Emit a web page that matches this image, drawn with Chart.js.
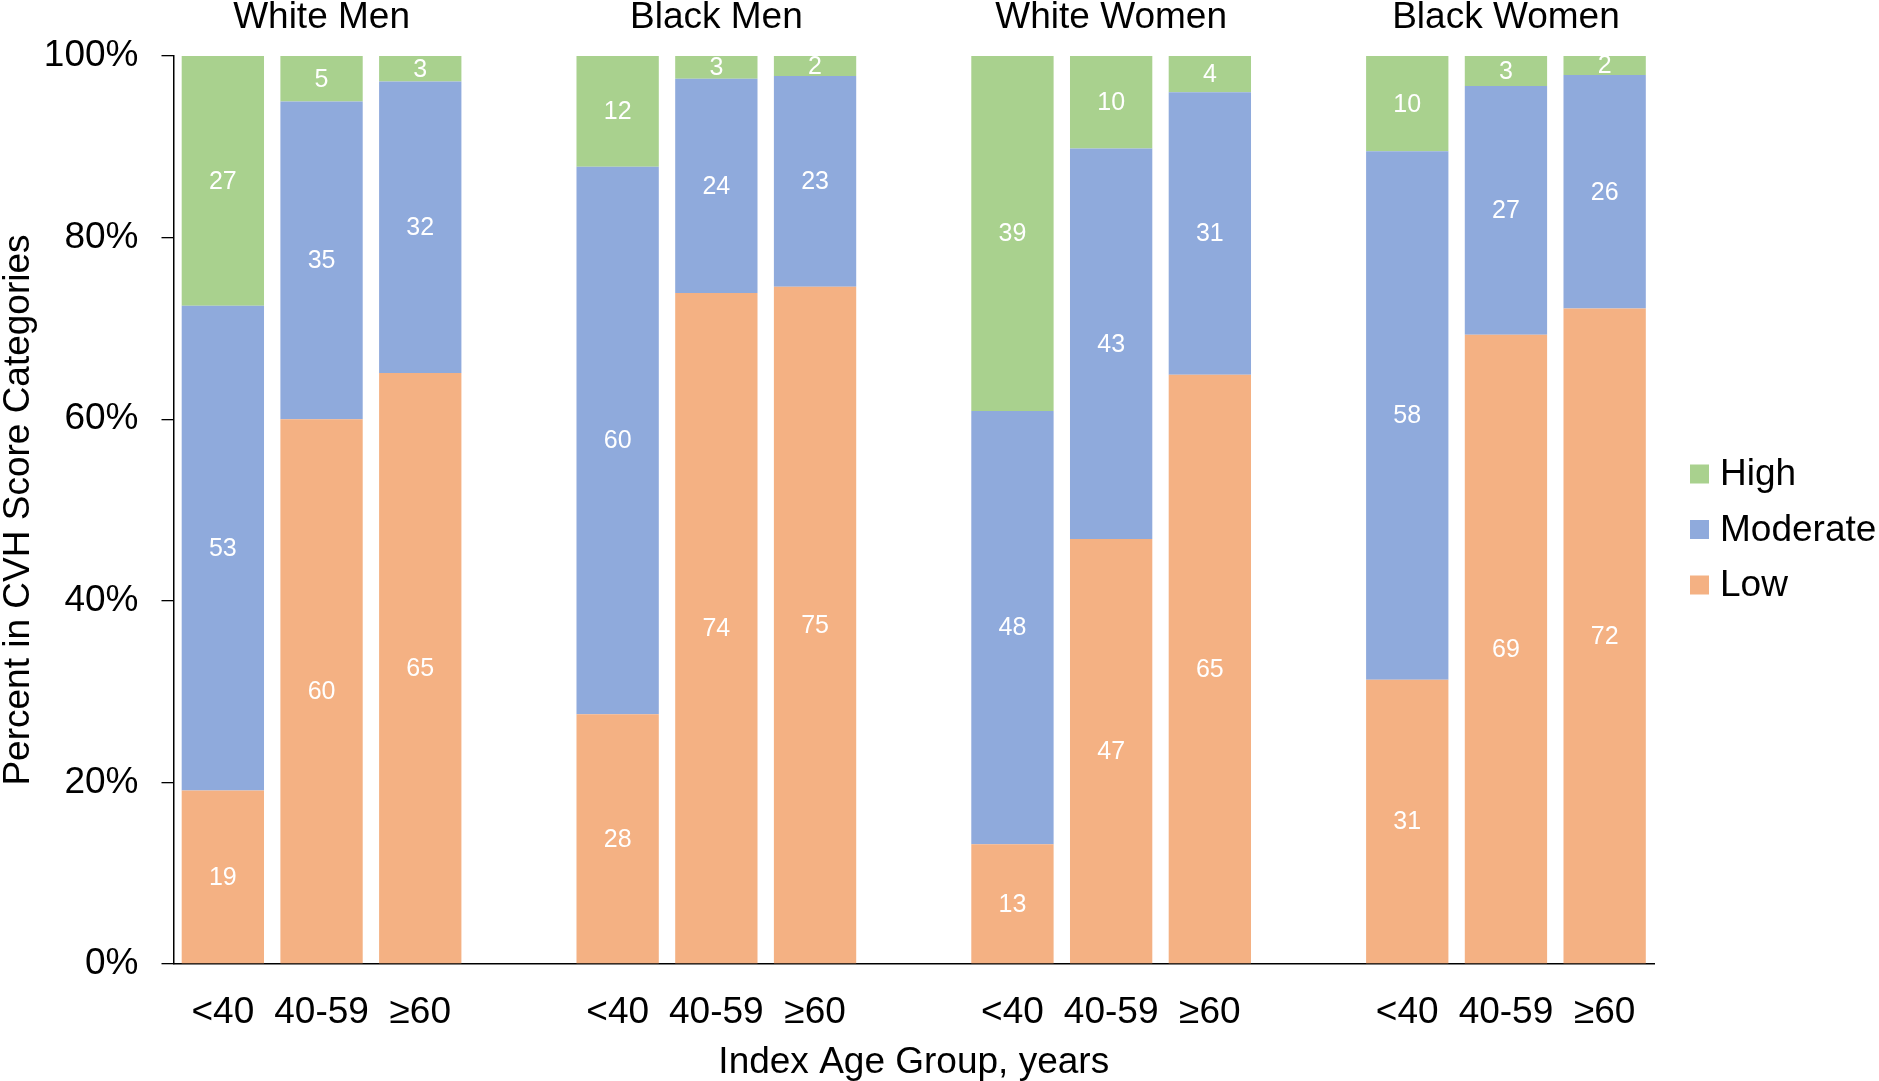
<!DOCTYPE html>
<html>
<head>
<meta charset="utf-8">
<script src="https://cdn.jsdelivr.net/npm/chart.js@4.4.1/dist/chart.umd.min.js"></script>
<style>
html,body{margin:0;padding:0;background:#fff;overflow:hidden}
#wrap{position:relative;width:1879px;height:1081px}
</style>
</head>
<body>
<div id="wrap"><canvas id="c" width="1879" height="1081"></canvas></div>
<script>
// ---- data ----
const groupNames = ['White Men', 'Black Men', 'White Women', 'Black Women'];
const ageLabels = ['<40', '40-59', '≥60', '', '<40', '40-59', '≥60', '', '<40', '40-59', '≥60', '', '<40', '40-59', '≥60'];
const groupCenterIndex = [1, 5, 9, 13];
const seriesNames = ['Low', 'Moderate', 'High'];
const lowValues      = [19.1, 60.0, 65.1, null, 27.5, 73.9, 74.6, null, 13.2, 46.8, 64.9, null, 31.3, 69.3, 72.2];
const moderateValues = [53.4, 35.0, 32.1, null, 60.3, 23.6, 23.2, null, 47.7, 43.0, 31.1, null, 58.2, 27.4, 25.7];
const highValues     = [27.5,  5.0,  2.8, null, 12.2,  2.5,  2.2, null, 39.1, 10.2,  4.0, null, 10.5,  3.3,  2.1];
const lowLabels      = [19, 60, 65, null, 28, 74, 75, null, 13, 47, 65, null, 31, 69, 72];
const moderateLabels = [53, 35, 32, null, 60, 24, 23, null, 48, 43, 31, null, 58, 27, 26];
const highLabels     = [27,  5,  3, null, 12,  3,  2, null, 39, 10,  4, null, 10,  3,  2];
const yTickValues = [0, 20, 40, 60, 80, 100];

// ---- style ----
const FONT = "'Liberation Sans', Arial, Helvetica, sans-serif";
const COLORS = {Low: '#F4B183', Moderate: '#8FAADC', High: '#A9D18E'};
Chart.defaults.font.family = FONT;
Chart.defaults.color = '#000';

const valueLabelPlugin = {
  id: 'valueLabels',
  afterDatasetsDraw(chart) {
    const ctx = chart.ctx;
    ctx.save();
    ctx.font = '25px ' + FONT;
    ctx.fillStyle = '#ffffff';
    ctx.textAlign = 'center';
    ctx.textBaseline = 'middle';
    chart.data.datasets.forEach((ds, di) => {
      const meta = chart.getDatasetMeta(di);
      meta.data.forEach((bar, i) => {
        const lbl = ds.valueLabels[i];
        if (lbl == null) return;
        const p = bar.getProps(['x', 'y', 'base'], true);
        ctx.fillText(String(lbl), p.x, (p.y + p.base) / 2 + 1);
      });
    });
    ctx.restore();
  }
};

const groupTitlePlugin = {
  id: 'groupTitles',
  afterDraw(chart) {
    const ctx = chart.ctx;
    const xs = chart.scales.x;
    ctx.save();
    ctx.font = '37px ' + FONT;
    ctx.fillStyle = '#000';
    ctx.textAlign = 'center';
    ctx.textBaseline = 'alphabetic';
    groupNames.forEach((g, k) => {
      ctx.fillText(g, xs.getPixelForValue(groupCenterIndex[k]), 28);
    });
    ctx.restore();
  }
};

const legendPlugin = {
  id: 'sideLegend',
  afterDraw(chart) {
    const ctx = chart.ctx;
    const items = chart.data.datasets.map(d => ({label: d.label, color: d.backgroundColor})).reverse();
    const boxX = 1690, box = 19, textX = 1720, firstY = 474, step = 55.5;
    ctx.save();
    ctx.font = '37px ' + FONT;
    ctx.textAlign = 'left';
    ctx.textBaseline = 'middle';
    items.forEach((it, k) => {
      const cy = firstY + k * step;
      ctx.fillStyle = it.color;
      ctx.fillRect(boxX, cy - box / 2, box, box);
      ctx.fillStyle = '#000';
      ctx.fillText(it.label, textX, cy + 1);
    });
    ctx.restore();
  }
};

new Chart(document.getElementById('c'), {
  type: 'bar',
  data: {
    labels: ageLabels,
    datasets: [
      {label: seriesNames[0], data: lowValues, backgroundColor: COLORS.Low, valueLabels: lowLabels},
      {label: seriesNames[1], data: moderateValues, backgroundColor: COLORS.Moderate, valueLabels: moderateLabels},
      {label: seriesNames[2], data: highValues, backgroundColor: COLORS.High, valueLabels: highLabels}
    ]
  },
  options: {
    responsive: false,
    animation: false,
    devicePixelRatio: 1,
    datasets: {bar: {categoryPercentage: 1, barPercentage: 0.834}},
    layout: {padding: {top: 56, right: 225, bottom: 0, left: 0}},
    plugins: {legend: {display: false}, tooltip: {enabled: false}},
    scales: {
      x: {
        stacked: true,
        offset: true,
        grid: {display: false, drawTicks: false},
        border: {display: true, color: '#000', width: 1.5},
        ticks: {font: {size: 37}, color: '#000', padding: 27, maxRotation: 0, minRotation: 0, autoSkip: false},
        title: {display: true, text: 'Index Age Group, years', font: {size: 37, lineHeight: 1.0}, color: '#000', padding: {top: 0, bottom: 0}},
        afterFit: s => { s.height = 1081 - 964; }
      },
      y: {
        stacked: true,
        min: 0,
        max: 100,
        afterBuildTicks: s => { s.ticks = yTickValues.map(v => ({value: v})); },
        grid: {drawOnChartArea: false, drawTicks: true, tickLength: 12, color: '#000', lineWidth: 1.3},
        border: {display: true, color: '#000', width: 1.5},
        ticks: {font: {size: 37}, color: '#000', padding: 23, callback: v => v + '%'},
        title: {display: true, text: 'Percent in CVH Score Categories', font: {size: 37, lineHeight: 1}, color: '#000', padding: 0},
        afterFit: s => { s.width = 173.5; }
      }
    }
  },
  plugins: [valueLabelPlugin, groupTitlePlugin, legendPlugin]
});
</script>
</body>
</html>
